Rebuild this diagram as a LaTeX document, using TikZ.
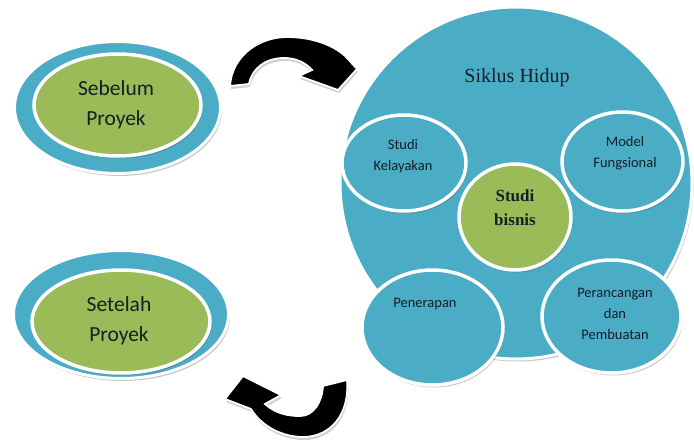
\documentclass[tikz,border=0pt]{standalone}
\usepackage{fontspec}
\setmainfont{Liberation Serif}
\newfontfamily\calfont{Carlito}
\usetikzlibrary{shapes.geometric,shadows}
\definecolor{cblue}{RGB}{75,172,198}
\definecolor{cgreen}{RGB}{155,187,89}
\definecolor{ctext}{RGB}{22,30,38}
\begin{document}
\begin{tikzpicture}[x=1pt,y=-1pt,
  shp/.style={ellipse, inner sep=0pt, draw=white, line width=3.5pt,
    drop shadow={shadow xshift=1.5pt, shadow yshift=-2.5pt, opacity=.3, fill=black!70}},
  bluesh/.style={shp, fill=cblue},
  greensh/.style={shp, fill=cgreen},
  lbl/.style={font=\calfont\fontsize{14.5}{21}\selectfont, text=ctext, align=center, inner sep=0pt},
  biglbl/.style={font=\calfont\fontsize{21.5}{30}\selectfont, text=ctext, align=center, inner sep=0pt},
  arrowsh/.style={fill=black, draw=white, line width=1.8pt, line join=miter, miter limit=4,
    drop shadow={shadow xshift=1pt, shadow yshift=-3pt, opacity=.3, fill=black!60}}
]
\useasboundingbox (0,0) rectangle (694,444);
\fill[white] (0,0) rectangle (694,444);

% left ellipses
\node[bluesh, line width=3pt, minimum width=206pt, minimum height=132pt] (sebO) at (117.5,107.5) {};
\node[greensh, minimum width=167pt, minimum height=102pt] (sebI) at (117.5,105) {};
\node[biglbl] (sebT) at (116,105) {Sebelum\\Proyek};

\node[bluesh, line width=3pt, minimum width=215pt, minimum height=128pt] (setO) at (121,314.5) {};
\node[greensh, minimum width=178pt, minimum height=103pt] (setI) at (121,321.5) {};
\node[biglbl] (setT) at (119,321) {Setelah\\Proyek};

% arrows
\path[arrowsh] (230,86) .. controls (232,55) and (260,37) .. (287,37)
  .. controls (315,37) and (337,47) .. (347,58) -- (357,69) -- (338,90) -- (299,76) -- (312,70)
  .. controls (305,62) and (295,58) .. (284,58) .. controls (266,58) and (252,68) .. (249,84) -- cycle;
\path[arrowsh] (347,380) .. controls (350,415) and (330,437) .. (303,437)
  .. controls (283,437) and (262,427) .. (251,409) -- (225,399) -- (243,376) -- (281,395) -- (265,404)
  .. controls (276,414) and (289,416) .. (300,416) .. controls (313,416) and (322,403) .. (323,386) -- cycle;

% big circle
\node[bluesh, circle, line width=3pt, minimum size=352pt] (siklus) at (516,183) {};
\node[font=\fontsize{20}{24}\selectfont, text=ctext, inner sep=0pt] (siklusT) at (517,78) {Siklus Hidup};

% inner ellipses
\node[bluesh, minimum width=124pt, minimum height=96pt] (kel) at (404,163) {};
\node[bluesh, minimum width=121pt, minimum height=99pt] (mod) at (622.5,161.5) {};
\node[bluesh, minimum width=141pt, minimum height=115pt] (pen) at (432.5,327.5) {};
\node[bluesh, minimum width=139pt, minimum height=113pt] (per) at (611.5,316.5) {};
\node[greensh, minimum width=112pt, minimum height=106pt] (bis) at (515,217) {};

\node[lbl] (kelT) at (403,156) {Studi\\Kelayakan};
\node[lbl] (modT) at (625,153) {Model\\Fungsional};
\node[lbl] (penT) at (425,304) {Penerapan};
\node[lbl] (perT) at (615,314) {Perancangan\\dan\\Pembuatan};
\node[font=\bfseries\fontsize{17}{24}\selectfont, text=ctext, align=center, inner sep=0pt] (bisT) at (515,208) {Studi\\bisnis};
\end{tikzpicture}
\end{document}
